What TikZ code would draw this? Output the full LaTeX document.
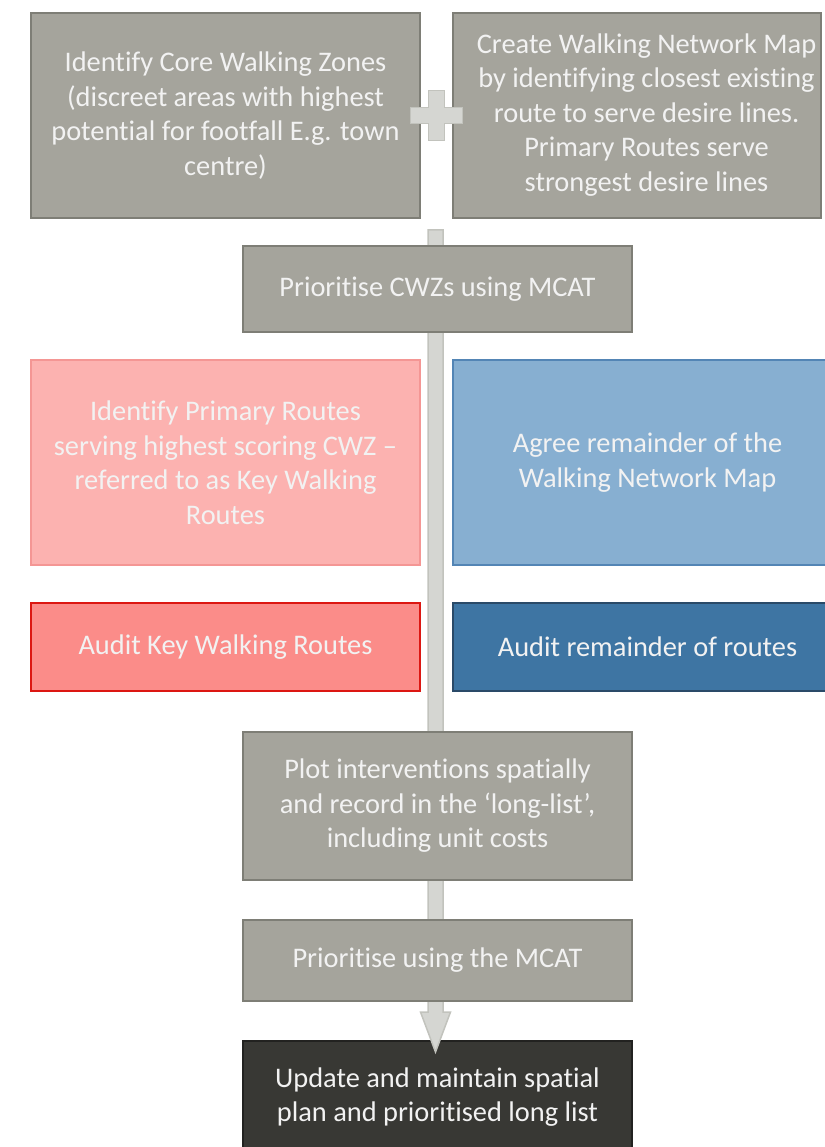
\documentclass[tikz,border=0pt]{standalone}
\usepackage{fontspec}
\setmainfont{Carlito}[RawFeature={-liga}]
\usepackage{tikz}
\usetikzlibrary{calc}

\definecolor{greyfill}{HTML}{A5A49C}
\definecolor{greyline}{HTML}{7E7E76}
\definecolor{pinkfill}{HTML}{FCB2B0}
\definecolor{pinkline}{HTML}{F49694}
\definecolor{redfill}{HTML}{FB8C89}
\definecolor{redline}{HTML}{DC1712}
\definecolor{skyfill}{HTML}{87AFD1}
\definecolor{skyline}{HTML}{5385B5}
\definecolor{navyfill}{HTML}{3E75A3}
\definecolor{navyline}{HTML}{2A4A68}
\definecolor{darkfill}{HTML}{383834}
\definecolor{darkline}{HTML}{222220}
\definecolor{barfill}{HTML}{D5D6D2}
\definecolor{barline}{HTML}{C2C3BD}

\begin{document}
\begin{tikzpicture}[x=1pt,y=-1pt,font=\fontsize{28.4}{34.5}\selectfont]
  \tikzstyle{box}=[draw,line width=2.5pt,text=white!95!black,align=center,inner sep=0pt]
  \tikzstyle{grey}=[box,fill=greyfill,draw=greyline]
  \tikzstyle{bar}=[fill=barfill,draw=barline,line width=1.5pt]

  \useasboundingbox (0,0) rectangle (824,1147);

  % last step sits under the arrow head
  \node[box,fill=darkfill,draw=darkline,minimum width=389pt,minimum height=112pt] (update) at (437.5,1097)
    {Update and maintain spatial\\plan and prioritised long list};

  \coordinate (bartop) at (435.5,230);
  \coordinate (bartip) at (435.5,1052);
  \draw[bar] ($(bartop)+(-7.5,0)$) -- ($(bartop)+(7.5,0)$) -- ($(bartip)+(7.5,-40)$)
    -- ($(bartip)+(15,-40)$) -- (bartip) -- ($(bartip)+(-15,-40)$) -- ($(bartip)+(-7.5,-40)$) -- cycle;

  \foreach \name/\pos/\w/\h/\text in {cwz/{225.5,115.5}/389/205/{Identify Core Walking Zones\\(discreet areas with highest\\potential for footfall E.g. town\\centre)},
                                  prio/{437.5,289}/389/86/{Prioritise CWZs using MCAT},
                                  plot/{437.5,806}/389/148/{Plot interventions spatially\\and record in the ‘long-list’,\\including unit costs},
                                  prioagain/{437.5,960.5}/389/81/{Prioritise using the MCAT}}
    \node[grey,minimum width=\w pt,minimum height=\h pt] (\name) at (\pos) {\text};

  % text of this one runs a little right of its box
  \node[grey,minimum width=368pt,minimum height=205pt] (netmap) at (637,115.5)
    {\hspace*{19pt}\begin{tabular}{@{}c@{}}Create Walking Network Map\\by identifying closest existing\\route to serve desire lines.\\Primary Routes serve\\strongest desire lines\end{tabular}};

  \node[box,fill=pinkfill,draw=pinkline,minimum width=389pt,minimum height=205pt] (keyroutes) at (225.5,462.5)
    {Identify Primary Routes\\serving highest scoring CWZ –\\referred to as Key Walking\\Routes};
  \node[box,fill=skyfill,draw=skyline,minimum width=389pt,minimum height=205pt] (remainder) at (647.5,462.5)
    {Agree remainder of the\\Walking Network Map};
  \node[box,fill=redfill,draw=redline,minimum width=389pt,minimum height=88pt] (auditkey) at (225.5,647)
    {Audit Key Walking Routes};
  \node[box,fill=navyfill,draw=navyline,minimum width=389pt,minimum height=88pt] (auditrest) at (647.5,647)
    {Audit remainder of routes};

  % plus sign between the first two steps
  \coordinate (plus) at ($(cwz.east)!0.5!(netmap.west)$);
  \draw[bar] ($(plus)+(-26,-8)$) -- ($(plus)+(-8,-8)$) -- ($(plus)+(-8,-25)$) -- ($(plus)+(8,-25)$)
    -- ($(plus)+(8,-8)$) -- ($(plus)+(26,-8)$) -- ($(plus)+(26,8)$) -- ($(plus)+(8,8)$)
    -- ($(plus)+(8,25)$) -- ($(plus)+(-8,25)$) -- ($(plus)+(-8,8)$) -- ($(plus)+(-26,8)$) -- cycle;
\end{tikzpicture}
\end{document}
